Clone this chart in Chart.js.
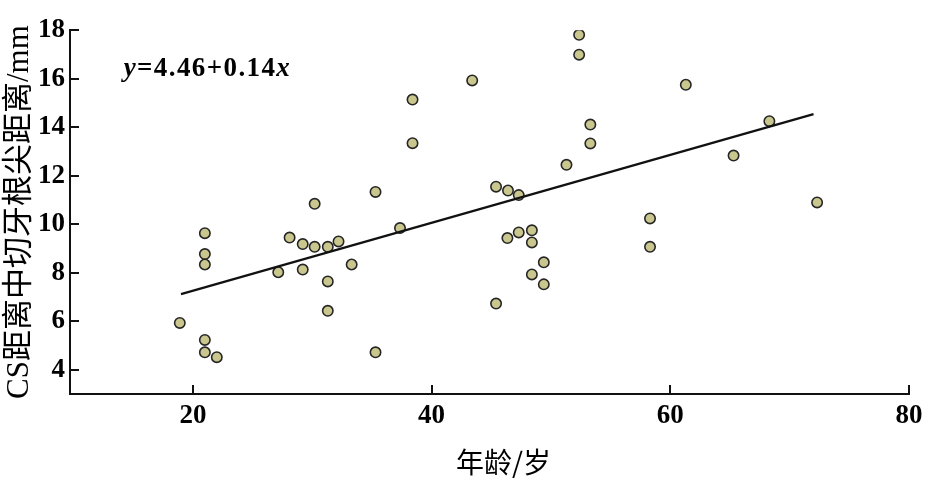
<!DOCTYPE html>
<html><head><meta charset="utf-8">
<script src="https://cdn.jsdelivr.net/npm/chart.js@4/dist/chart.umd.min.js"></script>
<style>html,body{margin:0;padding:0;background:#fff}#wrap{width:938px;height:479px;position:relative}</style>
</head><body><div id="wrap"><canvas id="c" width="938" height="479"></canvas></div>
<script>
// ---- data ----
const ages = [18.9, 21, 21, 21, 21, 21, 22, 27.15, 28.1, 29.2, 29.2, 30.2, 30.2, 31.3, 31.3, 31.3, 32.2, 33.3, 35.3, 35.3, 37.35, 38.4, 38.4, 43.4, 45.4, 45.4, 46.4, 46.35, 47.3, 47.3, 48.4, 48.4, 48.4, 49.4, 49.4, 51.3, 52.36, 52.36, 53.3, 53.3, 58.3, 58.3, 61.3, 65.3, 68.3, 72.3];
const distances = [5.93, 9.63, 8.77, 8.34, 5.23, 4.72, 4.52, 8.02, 9.45, 9.18, 8.13, 10.84, 9.07, 9.07, 7.64, 6.43, 9.29, 8.34, 11.33, 4.72, 9.84, 15.14, 13.34, 15.93, 11.55, 6.73, 11.39, 9.43, 11.2, 9.66, 9.75, 9.25, 7.93, 8.43, 7.52, 12.45, 17.81, 16.99, 14.11, 13.33, 10.24, 9.07, 15.75, 12.83, 14.25, 10.9];
const fitAges = [19, 72];
const fitDistances = [7.12, 14.54];
const xTickValues = [20, 40, 60, 80];
const yTickValues = [4, 6, 8, 10, 12, 14, 16, 18];
const xTitle = '年龄/岁';
const yTitle = 'CS距离中切牙根尖距离/mm';
const equationParts = [['y', true], ['=4.46+0.14', false], ['x', true]];
const equationAnchor = {x: 14.2, y: 16.1};

const textPlugin = {
  id: 'texts',
  afterDraw(chart) {
    const {ctx, scales, chartArea} = chart;
    ctx.save();
    ctx.fillStyle = '#000';
    // regression equation
    let px = scales.x.getPixelForValue(equationAnchor.x);
    const py = scales.y.getPixelForValue(equationAnchor.y);
    ctx.textBaseline = 'alphabetic';
    ctx.textAlign = 'left';
    ctx.letterSpacing = '1.4px';
    for (const [t, it] of equationParts) {
      ctx.font = (it ? 'italic ' : '') + 'bold 27px "Liberation Serif"';
      ctx.fillText(t, px, py);
      px += ctx.measureText(t).width;
    }
    ctx.letterSpacing = '0px';
    // x axis title
    ctx.font = '28px "Noto Sans CJK SC"';
    ctx.textAlign = 'center';
    ctx.textBaseline = 'middle';
    ctx.fillText(xTitle, (chartArea.left + chartArea.right) / 2 + 14, chart.height - 17);
    ctx.restore();
  }
};

const tickFont = {family: '"Liberation Serif"', size: 27, weight: 'bold'};

new Chart(document.getElementById('c'), {
  type: 'scatter',
  data: {
    datasets: [
      {
        data: fitAges.map((x, i) => ({x, y: fitDistances[i]})),
        showLine: true, borderColor: '#111', borderWidth: 2.2, pointRadius: 0, fill: false, order: 0
      },
      {
        data: ages.map((x, i) => ({x, y: distances[i]})),
        backgroundColor: '#c9c68e', borderColor: '#262626', borderWidth: 1.6, pointRadius: 5.2, order: 1
      }
    ]
  },
  options: {
    responsive: false, animation: false, events: [],
    layout: {padding: {top: 28, right: 29, left: 0, bottom: 0}},
    plugins: {legend: {display: false}, tooltip: {enabled: false}},
    scales: {
      x: {
        type: 'linear', min: 9.7, max: 80,
        afterBuildTicks: s => { s.ticks = xTickValues.map(v => ({value: v})); },
        afterFit: s => { s.height = 85; },
        grid: {drawOnChartArea: false, drawTicks: true, tickLength: -9, color: '#111', lineWidth: 2},
        border: {display: true, color: '#111', width: 2},
        ticks: {color: '#000', font: tickFont, padding: 15, maxRotation: 0, autoSkip: false},
        title: {display: false, text: xTitle}
      },
      y: {
        type: 'linear', min: 3, max: 18,
        afterBuildTicks: s => { s.ticks = yTickValues.map(v => ({value: v})); },
        afterFit: s => { s.width = 70; },
        grid: {drawOnChartArea: false, drawTicks: true, tickLength: -9, color: '#111', lineWidth: 2},
        border: {display: true, color: '#111', width: 2},
        ticks: {color: '#000', font: tickFont, padding: 14, autoSkip: false},
        title: {display: true, text: yTitle, color: '#000', font: {family: '"Liberation Serif", "Noto Sans CJK SC"', size: 31}, padding: {top: 1, bottom: 0}}
      }
    }
  },
  plugins: [textPlugin]
});
</script>
</body></html>
